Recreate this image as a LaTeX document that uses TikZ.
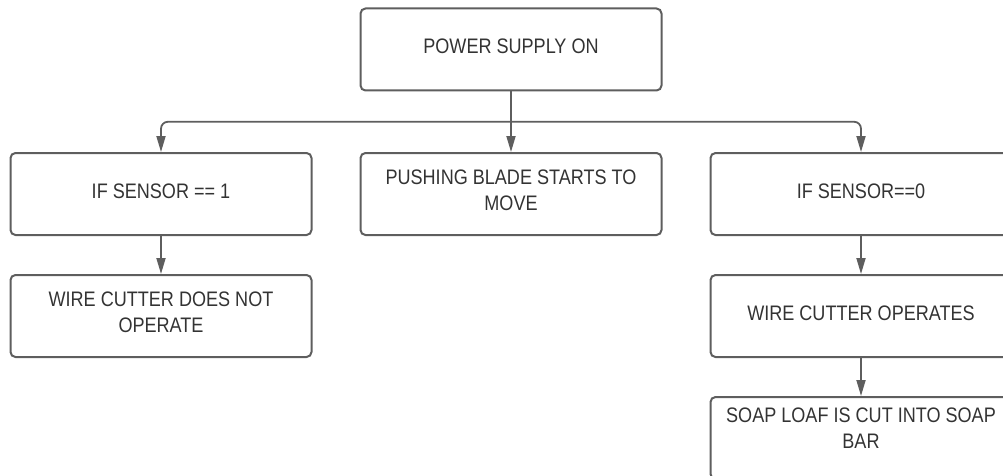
\documentclass[tikz,border=0pt]{standalone}
\usepackage{fontspec}
\setmainfont{Liberation Sans}[FakeStretch=0.86]
\usetikzlibrary{arrows.meta,positioning,calc}

\definecolor{edgegrey}{HTML}{5E5E5E}
\definecolor{textgrey}{HTML}{333333}

\begin{document}
\begin{tikzpicture}[x=1pt,y=-1pt,node distance=122pt,on grid,
    blk/.style={draw=edgegrey,line width=2pt,rounded corners=5pt,
      minimum width=301pt,minimum height=82pt,
      align=center,text depth=6pt,text=textgrey,
      font=\fontsize{21}{26}\selectfont},
    blktwo/.style={blk,text depth=8pt},
    arr/.style={draw=edgegrey,line width=1.8pt,
      -{Triangle[length=16pt,width=9pt]}}]
  \useasboundingbox (0,0) rectangle (1003,476);
  \node[blk]                   (power) at (511,49.5)            {POWER SUPPLY ON};
  \node[blktwo]                (blade) [below=144.5pt of power] {PUSHING BLADE STARTS TO\\MOVE};
  \node[blk]                   (sens1) [left=350pt of blade]    {IF SENSOR == 1};
  \node[blk]                   (sens0) [right=350pt of blade]   {IF SENSOR==0};
  \node[blktwo]                (nocut) [below=of sens1]         {WIRE CUTTER DOES NOT\\OPERATE};
  \node[blk]                   (cut)   [below=of sens0]         {WIRE CUTTER OPERATES};
  \node[blktwo,text depth=19pt] (bar)  [below=of cut]           {SOAP LOAF IS CUT INTO SOAP\\BAR};
  \coordinate (bus) at ($(power.south)!0.5!(power.south |- blade.north)$);
  \draw[arr] (power.south) -- (power.south |- blade.north);
  \draw[arr,rounded corners=7pt] (bus) -| (sens1.north);
  \draw[arr,rounded corners=7pt] (bus) -| (sens0.north);
  \draw[arr] (sens1) -- (nocut);
  \draw[arr] (sens0) -- (cut);
  \draw[arr] (cut) -- (bar);
\end{tikzpicture}
\end{document}
